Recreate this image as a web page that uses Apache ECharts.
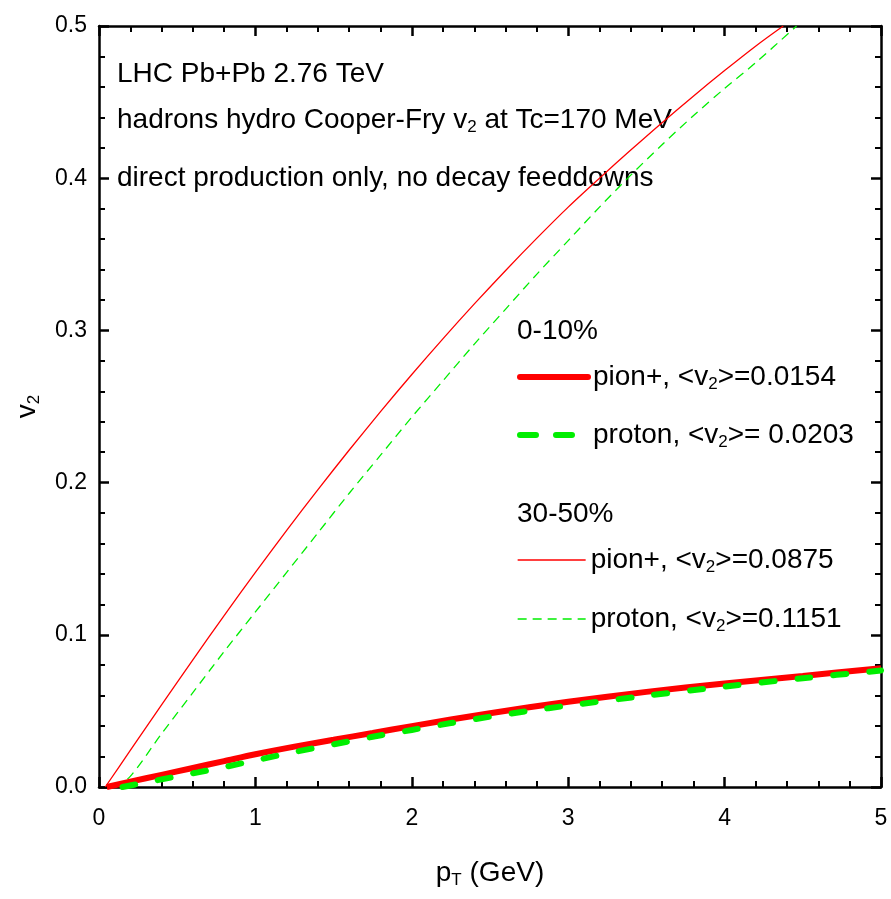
<!DOCTYPE html>
<html>
<head>
<meta charset="utf-8">
<script src="https://cdn.jsdelivr.net/npm/echarts@6/dist/echarts.min.js"></script>
<style>html,body{margin:0;padding:0;background:#fff}#c{width:891px;height:899px}</style>
</head>
<body>
<div id="c"></div>
<script>
// ---- data ----
const xTicks = [0, 1, 2, 3, 4, 5];
const yTicks = [0.0, 0.1, 0.2, 0.3, 0.4, 0.5];

// 0-10% centrality
const ptPion010 = [0.05, 0.2, 0.4, 0.6, 0.8, 1.0, 1.25, 1.5, 1.75, 2.0, 2.5, 3.0, 3.5, 4.0, 4.5, 5.0];
const v2Pion010 = [0, 0.0035, 0.008, 0.0125, 0.017, 0.0215, 0.0265, 0.031, 0.0355, 0.040, 0.0485, 0.056, 0.0625, 0.068, 0.073, 0.078];
const ptProton010 = [0.15, 0.3, 0.5, 0.75, 1.0, 1.25, 1.5, 1.75, 2.0, 2.25, 2.5, 2.75, 3.0, 3.5, 4.0, 4.5, 5.0];
const v2Proton010 = [0, 0.003, 0.007, 0.012, 0.0175, 0.023, 0.028, 0.033, 0.0375, 0.042, 0.0462, 0.050, 0.0535, 0.060, 0.066, 0.0715, 0.0765];

// 30-50% centrality
const ptPion3050 = [0.04, 0.2, 0.4, 0.6, 0.8, 1.0, 1.2, 1.4, 1.6, 1.8, 2.0, 2.2, 2.4, 2.6, 2.8, 3.0, 3.2, 3.4, 3.6, 3.8, 4.0, 4.2, 4.375];
const v2Pion3050 = [0, 0.024, 0.054, 0.0836, 0.1126, 0.141, 0.1686, 0.1954, 0.2214, 0.2466, 0.271, 0.2946, 0.3174, 0.3394, 0.3606, 0.381, 0.400, 0.4185, 0.4365, 0.4539, 0.4707, 0.4869, 0.5];
const ptProton3050 = [0.1, 0.2, 0.4, 0.6, 0.8, 1.0, 1.2, 1.4, 1.6, 1.8, 2.0, 2.2, 2.4, 2.6, 2.8, 3.0, 3.2, 3.4, 3.6, 3.8, 4.0, 4.2, 4.46];
const v2Proton3050 = [0, 0.007, 0.035, 0.062, 0.089, 0.115, 0.141, 0.167, 0.193, 0.218, 0.243, 0.267, 0.291, 0.314, 0.337, 0.359, 0.381, 0.402, 0.422, 0.441, 0.459, 0.476, 0.5];

const legendLabels = {
  pi010: '{t|pion+, <v}{s|2}{t|>=0.0154}',
  pr010: '{t|proton, <v}{s|2}{t|>= 0.0203}',
  pi3050: '{t|pion+, <v}{s|2}{t|>=0.0875}',
  pr3050: '{t|proton, <v}{s|2}{t|>=0.1151}'
};

function pairs(xs, ys) { return xs.map((x, i) => [x, ys[i]]); }

const FONT = '"Liberation Sans", Arial, sans-serif';
const RED = '#ff0000';
const GREEN = '#00ee00';

const richText = {
  t: { fontFamily: FONT, fontSize: 28, color: '#000', lineHeight: 32, verticalAlign: 'middle' },
  s: { fontFamily: FONT, fontSize: 17, color: '#000', lineHeight: 32, verticalAlign: 'bottom' }
};

const chart = echarts.init(document.getElementById('c'), null, { renderer: 'canvas' });

const tickStyle = { show: true, inside: true, length: 10, lineStyle: { color: '#000', width: 2.5 } };
const minorStyle = { show: true, splitNumber: 5, length: 6, lineStyle: { color: '#000', width: 2 } };
const lineStyleAxis = { show: true, onZero: false, lineStyle: { color: '#000', width: 2.5 } };

function legendFor(name, top, ls) {
  return {
    data: [name], left: 517, top: top, orient: 'vertical', padding: 0,
    itemWidth: 68, itemHeight: 32, selectedMode: false,
    itemStyle: { opacity: 0 },
    lineStyle: ls,
    formatter: n => legendLabels[n],
    textStyle: { fontFamily: FONT, fontSize: 28, color: '#000', rich: richText, lineHeight: 32 }
  };
}

const option = {
  animation: false,
  backgroundColor: '#fff',
  grid: { left: 99, right: 10, top: 26, bottom: 112, containLabel: false },
  xAxis: [{
    type: 'value', min: xTicks[0], max: xTicks[xTicks.length - 1], interval: 1,
    position: 'bottom',
    axisLine: lineStyleAxis, axisTick: tickStyle, minorTick: minorStyle,
    splitLine: { show: false },
    axisLabel: { margin: 20, fontFamily: FONT, fontSize: 23, color: '#000', formatter: v => String(v) },
    name: '{t|p}{s|T}{t| (GeV)}', nameLocation: 'middle', nameGap: 70,
    nameTextStyle: { rich: richText }
  }, {
    type: 'value', min: xTicks[0], max: xTicks[xTicks.length - 1], interval: 1,
    position: 'top',
    axisLine: lineStyleAxis, axisTick: tickStyle, minorTick: minorStyle,
    splitLine: { show: false }, axisLabel: { show: false }
  }],
  yAxis: [{
    type: 'value', min: yTicks[0], max: yTicks[yTicks.length - 1], interval: 0.1,
    position: 'left',
    axisLine: lineStyleAxis, axisTick: tickStyle, minorTick: minorStyle,
    splitLine: { show: false },
    axisLabel: { margin: 12, fontFamily: FONT, fontSize: 23, color: '#000', formatter: v => v.toFixed(1) },
    name: '{t|v}{s|2}', nameLocation: 'middle', nameGap: 56, nameRotate: 90,
    nameTextStyle: { rich: richText }
  }, {
    type: 'value', min: yTicks[0], max: yTicks[yTicks.length - 1], interval: 0.1,
    position: 'right',
    axisLine: lineStyleAxis, axisTick: tickStyle, minorTick: minorStyle,
    splitLine: { show: false }, axisLabel: { show: false }
  }],
  legend: [
    legendFor('pi010', 361, { width: 6, color: RED, type: 'solid', cap: 'round' }),
    legendFor('pr010', 419, { width: 6, color: GREEN, type: [16, 20], cap: 'round' }),
    legendFor('pi3050', 544, { width: 1.3, color: RED, type: 'solid' }),
    legendFor('pr3050', 603, { width: 1.3, color: GREEN, type: [9, 6] })
  ],
  graphic: [
    { type: 'text', left: 117, top: 60, style: { text: 'LHC Pb+Pb 2.76 TeV', font: '28px ' + FONT, fill: '#000' } },
    { type: 'text', left: 117, top: 106, style: { text: '{t|hadrons hydro Cooper-Fry v}{s|2}{t| at Tc=170 MeV}', rich: richText } },
    { type: 'text', left: 117, top: 164, style: { text: 'direct production only, no decay feeddowns', font: '28px ' + FONT, fill: '#000' } },
    { type: 'text', left: 517, top: 317, style: { text: '0-10%', font: '28px ' + FONT, fill: '#000' } },
    { type: 'text', left: 517, top: 500, style: { text: '30-50%', font: '28px ' + FONT, fill: '#000' } }
  ],
  series: [
    { name: 'pi3050', type: 'line', data: pairs(ptPion3050, v2Pion3050), symbol: 'none', smooth: 0.3,
      lineStyle: { color: RED, width: 1.3 }, itemStyle: { color: RED }, z: 2 },
    { name: 'pr3050', type: 'line', data: pairs(ptProton3050, v2Proton3050), symbol: 'none', smooth: 0.3,
      lineStyle: { color: GREEN, width: 1.3, type: [9, 6] }, itemStyle: { color: GREEN }, z: 2 },
    { name: 'pi010', type: 'line', data: pairs(ptPion010, v2Pion010), symbol: 'none', smooth: 0.3,
      lineStyle: { color: RED, width: 6 }, itemStyle: { color: RED }, z: 3 },
    { name: 'pr010', type: 'line', data: pairs(ptProton010, v2Proton010), symbol: 'none', smooth: 0.3,
      lineStyle: { color: GREEN, width: 6, type: [13, 23], cap: 'round' }, itemStyle: { color: GREEN }, z: 4 }
  ]
};
chart.setOption(option);
</script>
</body>
</html>
